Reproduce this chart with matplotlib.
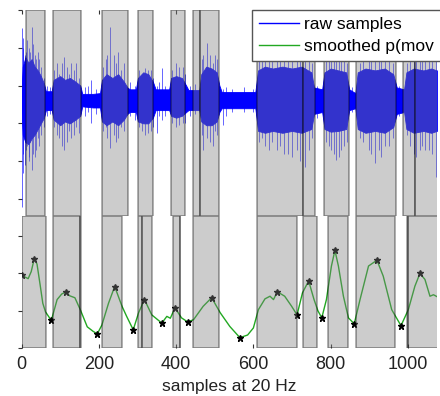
import numpy as np
import matplotlib
matplotlib.use('Agg')
from matplotlib import pyplot as plt

plt.rcParams['font.family'] = ['Liberation Sans', 'DejaVu Sans']

# raw samples, read as an envelope (core band) plus single spikes
env_x = [0, 3, 10, 18, 26, 34, 42, 50, 58, 63,
         78, 83, 100, 112, 125, 140, 152, 157, 185, 203,
         208, 220, 235, 250, 265, 274, 280, 296, 301, 315,
         328, 340, 347, 382, 387, 400, 415, 426, 432, 460,
         465, 478, 492, 505, 512, 518, 605, 612, 630, 650,
         675, 700, 725, 750, 757, 778, 784, 800, 820, 840,
         848, 864, 870, 890, 915, 940, 962, 971, 990, 996,
         1015, 1040, 1060, 1075]
env_hi = [2.9, 3.5, 3.75, 3.6, 3.7, 3.5, 3.4, 3.25, 3.05, 2.85,
          2.85, 3.15, 3.25, 3.15, 3.2, 3.1, 3.0, 2.78, 2.78, 2.8,
          3.15, 3.3, 3.2, 3.3, 3.1, 2.95, 2.9, 2.9, 3.2, 3.35,
          3.3, 3.1, 2.9, 2.9, 3.2, 3.25, 3.2, 3.0, 2.88, 2.88,
          3.3, 3.5, 3.45, 3.35, 3.0, 2.83, 2.83, 3.4, 3.5, 3.45,
          3.5, 3.45, 3.5, 3.35, 2.95, 2.9, 3.35, 3.45, 3.4, 3.35,
          2.9, 2.8, 3.35, 3.45, 3.4, 3.45, 3.3, 2.95, 2.9, 3.35,
          3.45, 3.4, 3.45, 3.4]
env_lo = [2.3, 1.7, 1.5, 1.45, 1.6, 1.7, 1.85, 2.0, 2.15, 2.35,
          2.35, 2.1, 1.95, 2.05, 2.0, 2.1, 2.2, 2.45, 2.42, 2.42,
          2.05, 1.95, 2.05, 1.95, 2.1, 2.25, 2.3, 2.3, 2.05, 2.0,
          2.0, 2.15, 2.35, 2.35, 2.2, 2.15, 2.2, 2.3, 2.35, 2.35,
          2.05, 1.95, 1.95, 2.05, 2.3, 2.4, 2.4, 1.8, 1.75, 1.8,
          1.75, 1.8, 1.75, 1.85, 2.25, 2.3, 1.85, 1.78, 1.8, 1.85,
          2.35, 2.4, 1.85, 1.75, 1.8, 1.75, 1.9, 2.25, 2.3, 1.85,
          1.75, 1.8, 1.75, 1.8]

spike_x = [0, 3, 5, 8, 12, 14, 18, 20, 23, 27,
           30, 35, 38, 42, 45, 50, 57, 65, 74, 85,
           92, 98, 105, 110, 118, 122, 128, 135, 142, 148,
           165, 172, 180, 192, 212, 218, 222, 230, 238, 244,
           250, 258, 265, 280, 293, 305, 312, 320, 328, 335,
           340, 350, 355, 363, 372, 390, 400, 408, 418, 422,
           436, 450, 466, 470, 480, 488, 495, 500, 506, 522,
           530, 545, 575, 598, 615, 622, 630, 640, 648, 660,
           670, 680, 690, 700, 712, 720, 733, 745, 752, 765,
           788, 795, 800, 808, 815, 822, 828, 835, 842, 855,
           875, 884, 900, 905, 914, 925, 930, 940, 950, 962,
           978, 998, 1005, 1015, 1020, 1030, 1036, 1045, 1055, 1062,
           1072]
spike_hi = [4.52, 4.26, 4.0, 3.8, 3.9, 4.2, 3.6, 4.0, 3.9, 4.55,
            4.1, 3.8, 3.7, 3.9, 3.7, 3.5, 3.2, 3.0, 2.95, 3.4,
            3.6, 3.3, 3.6, 3.76, 3.5, 3.3, 3.6, 3.4, 3.6, 3.2,
            2.95, 3.0, 3.15, 2.9, 3.5, 3.7, 3.8, 4.55, 3.8, 3.6,
            3.9, 3.4, 3.6, 3.1, 3.0, 3.4, 3.3, 3.47, 3.4, 3.4,
            3.2, 3.0, 3.1, 3.47, 3.0, 3.4, 3.6, 3.5, 3.5, 3.3,
            3.0, 3.05, 3.7, 3.8, 4.13, 3.8, 3.6, 3.8, 3.7, 2.9,
            2.95, 2.9, 2.95, 2.9, 3.8, 4.0, 4.1, 3.9, 3.7, 4.0,
            4.0, 3.8, 3.9, 3.8, 3.9, 3.7, 3.9, 3.8, 3.6, 3.0,
            3.8, 3.7, 4.0, 3.9, 3.9, 3.8, 3.7, 3.8, 3.6, 2.95,
            3.6, 3.9, 4.0, 3.8, 3.9, 3.9, 3.7, 3.8, 3.8, 3.6,
            3.0, 3.6, 3.8, 3.9, 3.9, 3.8, 3.9, 4.0, 3.8, 3.7,
            3.8]
spike_lo = [-0.21, 0.69, 1.2, 0.9, 1.3, 1.4, 1.1, 1.0, 1.5, 0.77,
            1.2, 1.1, 1.3, 1.6, 1.4, 1.7, 1.9, 2.2, 2.25, 1.9,
            1.7, 1.6, 1.4, 1.3, 1.5, 1.8, 1.6, 1.7, 1.9, 1.75,
            2.2, 2.3, 2.0, 2.25, 1.8, 1.9, 1.6, 1.35, 1.7, 1.5,
            1.6, 1.9, 1.8, 2.2, 2.1, 1.9, 1.8, 1.69, 1.75, 1.8,
            1.9, 1.75, 2.2, 2.1, 2.2, 2.0, 1.9, 1.95, 2.0, 2.0,
            2.2, 2.25, 1.7, 1.3, 1.6, 1.5, 1.4, 1.8, 1.7, 1.96,
            2.2, 2.3, 2.3, 2.3, 1.5, 1.6, 1.4, 1.3, 1.5, 1.3,
            1.4, 1.2, 1.2, 1.11, 1.3, 1.0, 0.85, 1.3, 1.6, 2.15,
            1.5, 1.4, 1.3, 1.2, 1.03, 1.1, 1.3, 1.4, 1.5, 2.3,
            1.6, 1.5, 1.3, 1.2, 0.95, 1.3, 1.1, 1.4, 1.4, 1.6,
            2.2, 1.7, 1.4, 1.2, 1.11, 1.3, 1.4, 1.3, 1.3, 1.2,
            0.58]

# smoothed p(move)
smooth_x = [0, 10, 17, 25, 33, 40, 48, 55, 62, 77, 92, 104, 114, 125, 138, 152, 170, 185, 196, 208, 225, 241, 260, 272, 289, 303, 318, 337, 363, 376, 385, 397, 414, 430, 445, 470, 492, 514, 539, 565, 585, 600, 613, 630, 643, 652, 662, 681, 699, 713, 727, 743, 757, 767, 777, 789, 802, 811, 820, 833, 846, 861, 876, 898, 912, 920, 936, 958, 982, 1001, 1018, 1031, 1044, 1057, 1066, 1075]
smooth_y = [0.195, 0.19, 0.186, 0.205, 0.24, 0.225, 0.17, 0.12, 0.097, 0.074, 0.13, 0.145, 0.15, 0.14, 0.135, 0.103, 0.057, 0.045, 0.038, 0.062, 0.12, 0.165, 0.112, 0.085, 0.049, 0.095, 0.13, 0.089, 0.067, 0.085, 0.08, 0.108, 0.081, 0.07, 0.076, 0.112, 0.135, 0.095, 0.058, 0.028, 0.035, 0.054, 0.103, 0.132, 0.139, 0.13, 0.151, 0.139, 0.112, 0.089, 0.148, 0.18, 0.13, 0.1, 0.081, 0.13, 0.22, 0.262, 0.22, 0.139, 0.081, 0.065, 0.13, 0.22, 0.23, 0.235, 0.193, 0.103, 0.06, 0.103, 0.166, 0.2, 0.184, 0.139, 0.143, 0.138]

# extrema marked with asterisks
ext_x = [0, 33, 77, 114, 196, 241, 289, 318, 363, 397, 430, 492, 565, 662, 713, 743, 777, 811, 861, 920, 982, 1031]
ext_y = [0.195, 0.24, 0.074, 0.15, 0.038, 0.165, 0.049, 0.13, 0.067, 0.108, 0.07, 0.135, 0.028, 0.151, 0.089, 0.18, 0.081, 0.262, 0.065, 0.235, 0.06, 0.2]

# shaded segments
top_segs = [(12, 61), (81, 153), (207, 275), (301, 340), (386, 423), (443, 462), (462, 511), (610, 729), (729, 759), (782, 847), (866, 970), (987, 1018), (1018, 1080)]
bot_segs = [(0, 63), (82, 150), (150, 153), (207, 259), (301, 311), (311, 337), (393, 409), (409, 411), (443, 511), (610, 712), (729, 765), (793, 846), (866, 966), (997, 1001), (1001, 1080)]

xmax = 1075
fc = (0.5, 0.5, 0.5, 0.4)
ec = (0, 0, 0, 0.4)

fig = plt.figure(figsize=(4.4, 3.96), dpi=100)
ax1 = fig.add_axes([0.049, 0.4545, 0.944, 0.5205])
ax2 = fig.add_axes([0.049, 0.121, 0.944, 0.3335])

ax1.fill_between(env_x, env_lo, env_hi, color='#0000ff', lw=0.6)
ax1.vlines(spike_x, spike_lo, spike_hi, color='#0000ff', lw=0.6, alpha=0.7)
l1, = ax1.plot([], [], color='#0000ff', lw=1, label='raw samples')
for a, b in top_segs:
    ax1.axvspan(a, b, facecolor=fc, edgecolor=ec, lw=1.1, zorder=3)
ax1.set_xlim(0, xmax)
ax1.set_ylim(-0.45, 5.0)

ax2.plot(smooth_x, smooth_y, color='#22a822', lw=1)
ax2.plot(ext_x, ext_y, '*', color='k', ms=5)
for a, b in bot_segs:
    ax2.axvspan(a, b, facecolor=fc, edgecolor=ec, lw=1.1, zorder=3)
ax2.set_xlim(0, xmax)
ax2.set_ylim(0, 0.354)
l2, = ax1.plot([], [], color='#22a822', lw=1, label='smoothed p(mov')

for ax in (ax1, ax2):
    for s in ax.spines.values():
        s.set_visible(False)
    ax.tick_params(axis='y', direction='out', length=3, color='#333333', labelleft=False)

ax1.set_yticks([0, 1, 2, 3, 4, 5])
ax1.set_xticks([0, 200, 400, 600, 800, 1000])
ax1.tick_params(axis='x', top=True, bottom=False, direction='in', length=3, labelbottom=False, color='#333333')

ax2.set_yticks([0, 0.1, 0.2, 0.3])
ax2.set_xticks([0, 200, 400, 600, 800, 1000])
ax2.tick_params(axis='x', direction='in', length=3, pad=6, labelsize=13, color='#333333', labelcolor='#222222')
ax2.set_xlabel('samples at 20 Hz', fontsize=12.5, color='#222222', labelpad=4)

leg = ax1.legend(handles=[l1, l2], loc='upper left', bbox_to_anchor=(252/440, 386/396),
                 bbox_transform=fig.transFigure, borderaxespad=0, fontsize=12.5,
                 fancybox=False, framealpha=1, edgecolor='#555555', handlelength=2.3,
                 handletextpad=0.3, borderpad=0.4, labelspacing=0.4)
leg.set_zorder(10)

plt.savefig('out.png', dpi=100)
plt.close()
